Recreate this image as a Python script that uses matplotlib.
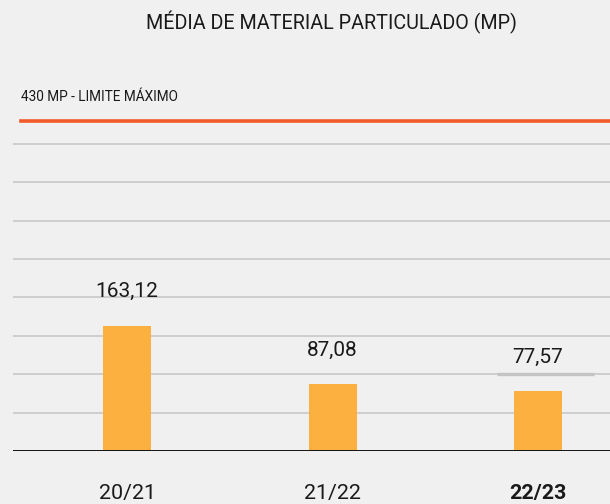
import matplotlib.pyplot as plt
import numpy as np

# data
safras = ['20/21', '21/22', '22/23']
media_mp = [163.12, 87.08, 77.57]
limite = 430
grid_vals = [50, 100, 150, 200, 250, 300, 350, 400]

plt.rcParams['font.family'] = ['Roboto', 'DejaVu Sans']
bg = '#f0f0f0'

fig = plt.figure(figsize=(6.1, 5.04), dpi=100, facecolor=bg)
ax = fig.add_axes([13 / 610, 53 / 504, 597 / 610, 345.6 / 504], facecolor=bg)

x = np.arange(len(safras))
ax.set_xlim(-0.555, 2.35)
ax.set_ylim(0, 450)

for g in grid_vals:
    ax.axhline(g, color='#c4c4c4', lw=1.1, zorder=0)
ax.axhline(0, color='#111111', lw=1.4, zorder=3)
ax.axhline(limite, xmin=8 / 597, xmax=1, color='#f15a29', lw=2.6, zorder=2)
# little darker piece of grid under the last label
ax.hlines(100, 1.8, 2.27, color='#c4c4c4', lw=2.4, zorder=1)

bars = ax.bar(x, media_mp, width=0.234, color='#fbb040', zorder=2)
for xi, v in zip(x, media_mp):
    ax.annotate(f'{v:.2f}'.replace('.', ','), (xi, v), xytext=(0, 34),
                textcoords='offset pixels', ha='center', va='center',
                fontsize=15, color='#1a1a1a')

ax.set_xticks(x, safras, fontsize=15.4, color='#1a1a1a')
ax.get_xticklabels()[-1].set_fontweight('bold')
ax.tick_params(axis='x', length=0, pad=24)
ax.set_yticks([])
for s in ax.spines.values():
    s.set_visible(False)

fig.text(331.5 / 610, 1 - 22 / 504, 'MÉDIA DE MATERIAL PARTICULADO (MP)', ha='center',
         va='center', fontsize=14.2, color='#1a1a1a')
fig.text(21 / 610, 1 - 97 / 504, '430 MP - LIMITE MÁXIMO', ha='left',
         va='center', fontsize=9.8, color='#1a1a1a')

fig.savefig('out.png', dpi=100, facecolor=bg)
